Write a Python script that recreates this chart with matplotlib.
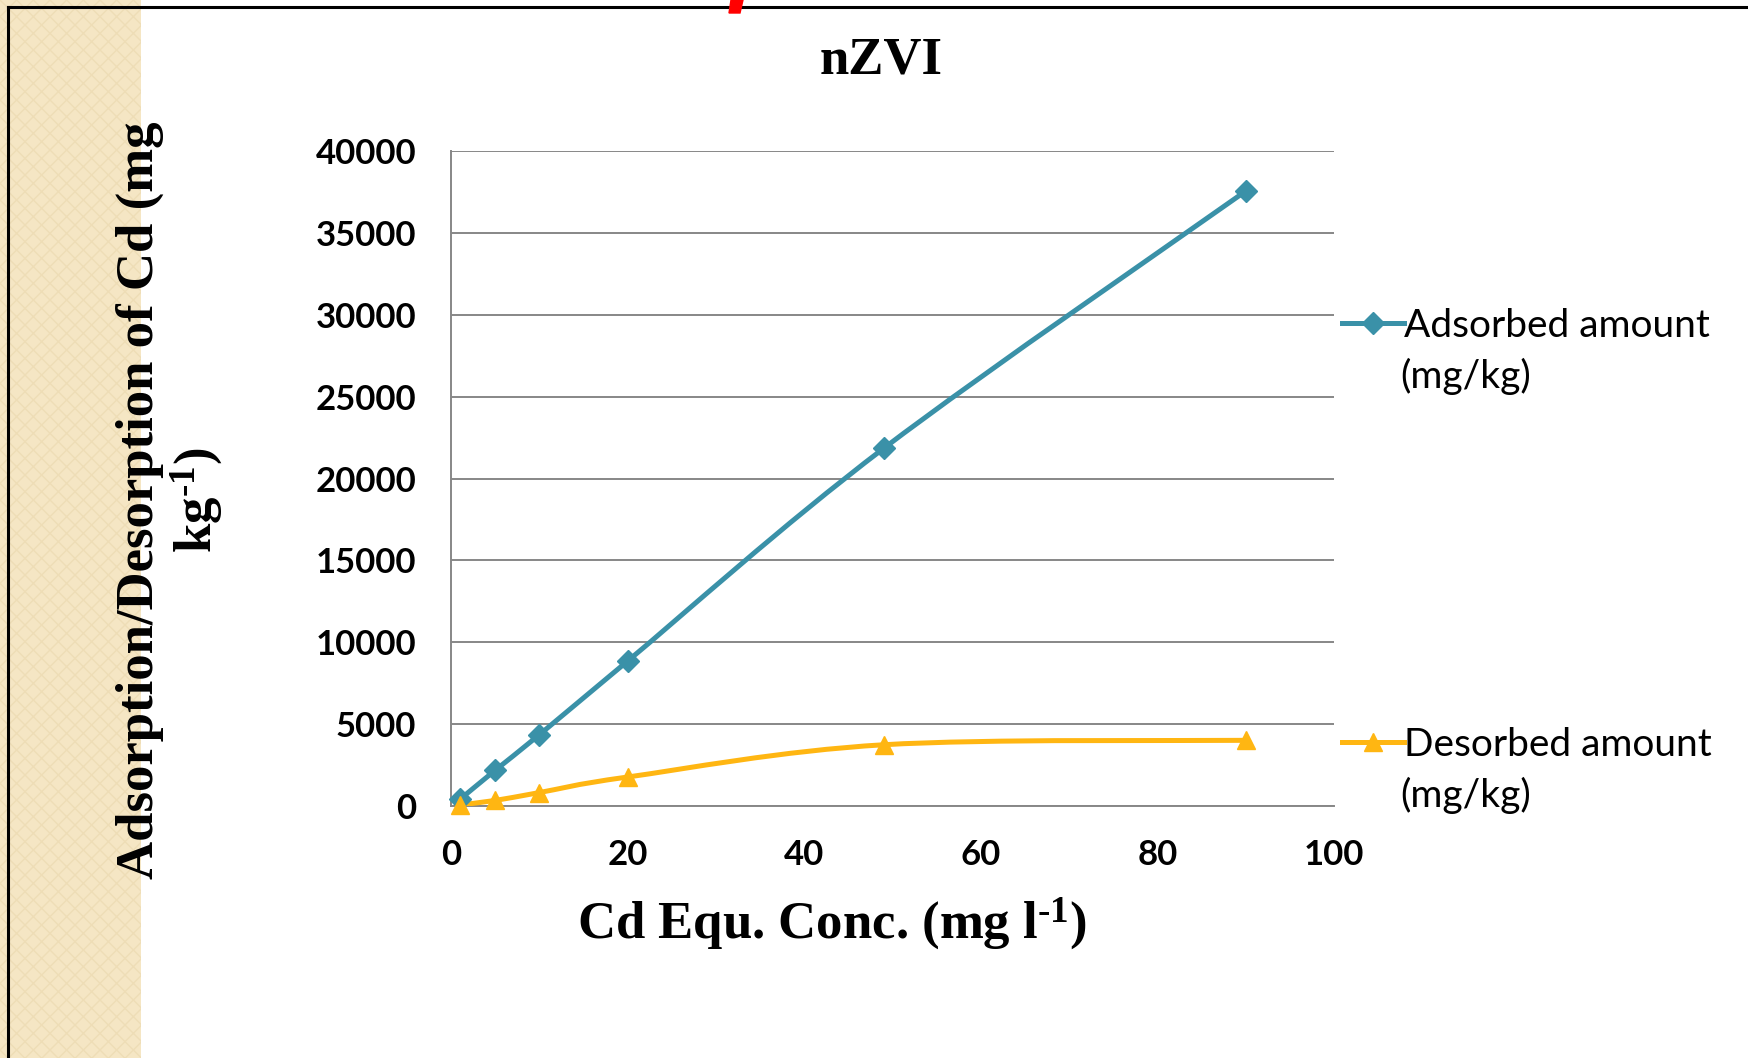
import numpy as np
import matplotlib
matplotlib.use("Agg")
import matplotlib.pyplot as plt
from matplotlib.path import Path
from matplotlib.patches import PathPatch, Rectangle, Polygon
from matplotlib.lines import Line2D

# data
conc = [1, 5, 10, 20, 49, 90]
adsorbed = [400, 2180, 4350, 8850, 21840, 37550]
desorbed = [70, 340, 820, 1770, 3740, 4010]
series_names = ["Adsorbed amount", "Desorbed amount"]
series_unit = "(mg/kg)"
xticks = [0, 20, 40, 60, 80, 100]
yticks = [0, 5000, 10000, 15000, 20000, 25000, 30000, 35000, 40000]

teal = "#3A91A8"
gold = "#FFB612"
grid_c = "#878787"

plt.rcParams["mathtext.fontset"] = "custom"
plt.rcParams["mathtext.rm"] = "Liberation Serif:bold"
plt.rcParams["mathtext.bf"] = "Liberation Serif:bold"
plt.rcParams["mathtext.default"] = "bf"

W, H = 1749, 1058
fig = plt.figure(figsize=(W / 100, H / 100), dpi=100)

# slide decoration: beige strip, black frame, red tick
fig.add_artist(Rectangle((0, 0), 141 / W, 1, transform=fig.transFigure,
                         facecolor="#F5E6C4", edgecolor="#EEDDB6", hatch="xx",
                         linewidth=0, zorder=0))
fig.add_artist(Line2D([8 / W, 8 / W], [0, 1 - 7 / H], transform=fig.transFigure,
                      color="black", lw=2.2, zorder=1))
fig.add_artist(Line2D([8 / W, 1], [1 - 7 / H, 1 - 7 / H], transform=fig.transFigure,
                      color="black", lw=2.2, zorder=1))
fig.add_artist(Polygon([(731 / W, 1), (743 / W, 1), (740 / W, 1 - 13 / H), (729 / W, 1 - 13 / H)],
                       closed=True, transform=fig.transFigure, color="red", zorder=2))

ax = fig.add_axes([451 / W, 1 - 806 / H, (1334 - 451) / W, (806 - 151) / H])
ax.set_xlim(0, 100)
ax.set_ylim(0, 40000)
ax.set_xticks(xticks)
ax.set_yticks(yticks)
ax.grid(axis="y", color=grid_c, lw=1.4)
ax.set_axisbelow(True)
for s in ["top", "right"]:
    ax.spines[s].set_visible(False)
for s in ["left", "bottom"]:
    ax.spines[s].set_color(grid_c)
    ax.spines[s].set_linewidth(1.4)
ax.tick_params(length=0, labelsize=25)
ax.tick_params(axis="x", pad=24)
ax.tick_params(axis="y", pad=25)
for lab in ax.get_xticklabels() + ax.get_yticklabels():
    lab.set_fontfamily("Lato")
    lab.set_fontweight("bold")


def smooth_path(x, y):
    # Excel-style smoothed line: Bezier segments through the points
    pts = np.column_stack([x, y]).astype(float)
    n = len(pts)
    verts = [pts[0]]
    codes = [Path.MOVETO]
    for i in range(n - 1):
        p0 = pts[i - 1] if i > 0 else pts[i]
        p1 = pts[i]
        p2 = pts[i + 1]
        p3 = pts[i + 2] if i + 2 < n else pts[i + 1]
        verts += [p1 + (p2 - p0) / 6, p2 - (p3 - p1) / 6, p2]
        codes += [Path.CURVE4] * 3
    return Path(verts, codes)


ax.add_patch(PathPatch(smooth_path(conc, adsorbed), fill=False, edgecolor=teal,
                       lw=3.6, capstyle="round", zorder=3))
ax.add_patch(PathPatch(smooth_path(conc, desorbed), fill=False, edgecolor=gold,
                       lw=3.6, capstyle="round", zorder=3))
ax.plot(conc, adsorbed, ls="none", marker="D", ms=11, color=teal, zorder=4, clip_on=False)
ax.plot(conc, desorbed, ls="none", marker="^", ms=13, color=gold, zorder=4, clip_on=False)

# legend entries
leg_font = {"family": "Lato", "size": 28}
h1 = Line2D([], [], color=teal, lw=3.6, marker="D", ms=11)
h2 = Line2D([], [], color=gold, lw=3.6, marker="^", ms=13)
for h, name, ypix in [(h1, series_names[0], 326), (h2, series_names[1], 745)]:
    fig.legend([h], [name], loc="center left",
               bbox_to_anchor=(1342 / W, 1 - ypix / H), frameon=False,
               prop=leg_font, handlelength=1.6, handletextpad=0.0,
               borderaxespad=0, borderpad=0)
    fig.text(1400 / W, 1 - (ypix + 50) / H, series_unit, fontdict=leg_font,
             ha="left", va="center")

fig.text(881 / W, 1 - 61 / H, "nZVI", family="Liberation Serif", weight="bold",
         size=38, ha="center", va="center")
fig.text(832 / W, 1 - 924 / H, r"Cd Equ. Conc. (mg l$^{\text{-1}}$)", family="Liberation Serif",
         weight="bold", size=38, ha="center", va="center")
fig.text(170 / W, 1 - 500 / H, "Adsorption/Desorption of Cd (mg\n" + r"kg$^{\text{-1}}$)",
         family="Liberation Serif", weight="bold", size=38, rotation=90,
         ha="center", va="center", multialignment="center", linespacing=1.1)

fig.savefig("out.png", dpi=100)
